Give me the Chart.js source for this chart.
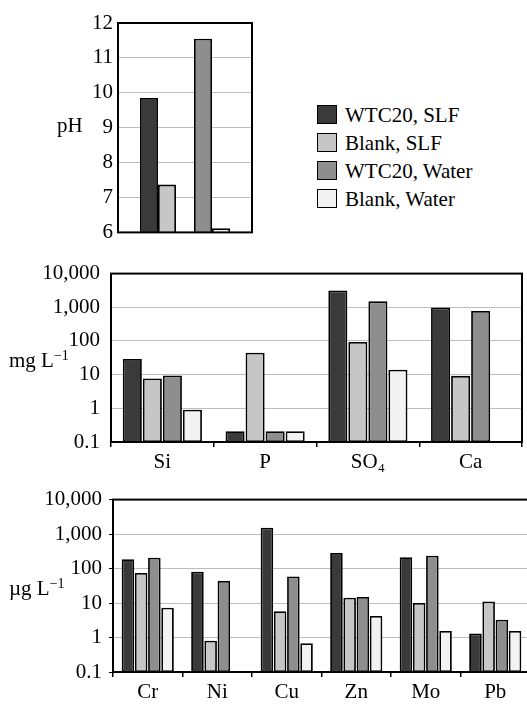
<!DOCTYPE html>
<html>
<head>
<meta charset="utf-8">
<script src="https://cdn.jsdelivr.net/npm/chart.js@4/dist/chart.umd.min.js"></script>
<style>
  body { margin: 0; width: 527px; height: 705px; overflow: hidden; background: #fff; position: relative;
         font-family: "Liberation Serif", "DejaVu Serif", serif; color: #000; }
  canvas { position: absolute; left: 0; }
  .ytitle { position: absolute; font-size: 21px; line-height: 21px; white-space: nowrap; }
  .ytitle sup { font-size: 14px; vertical-align: 7px; line-height: 0; }
  #legend { position: absolute; left: 317px; top: 105px; font-size: 21px; }
  #legend div { height: 28px; display: flex; align-items: flex-start; white-space: nowrap; }
  #legend span.box { width: 18px; height: 17px; border: 1.5px solid #000; margin-right: 8px; flex: none; }
  #legend span.txt { line-height: 20px; }
</style>
</head>
<body>
<canvas id="phChart" width="260" height="250" style="top:0"></canvas>
<canvas id="mgChart" width="527" height="225" style="top:250px"></canvas>
<canvas id="ugChart" width="535" height="225" style="top:480px"></canvas>
<div class="ytitle" style="left:57px; top:115px">pH</div>
<div class="ytitle" style="left:9px; top:350px">mg L<sup>−1</sup></div>
<div class="ytitle" style="left:9px; top:578px">µg L<sup>−1</sup></div>
<div id="legend"></div>

<script>
// series shared by all three panels
const seriesNames = ['WTC20, SLF', 'Blank, SLF', 'WTC20, Water', 'Blank, Water'];
const seriesColors = ['#3a3a3a', '#c6c6c6', '#8e8e8e', '#f2f2f2'];

// pH panel, one value per series
const phValues = [9.85, 7.37, 11.55, 6.12];

// mg/L panel
const mgLabels = ['Si', 'P', 'SO₄', 'Ca'];
const mgWtcSlf = [29, 0.21, 3140, 986];
const mgBlankSlf = [7.7, 45, 93, 9.2];
const mgWtcWater = [9.4, 0.21, 1500, 773];
const mgBlankWater = [0.91, 0.21, 14, null];

// ug/L panel
const ugLabels = ['Cr', 'Ni', 'Cu', 'Zn', 'Mo', 'Pb'];
const ugWtcSlf = [186, 81, 1530, 283, 212, 1.31];
const ugBlankSlf = [74, 0.81, 5.8, 14.3, 10, 11.1];
const ugWtcWater = [207, 44, 59, 14.9, 236, 3.3];
const ugBlankWater = [7.3, null, 0.68, 4.2, 1.55, 1.55];

// log axis ticks
const logTicks = [0.1, 1, 10, 100, 1000, 10000];

Chart.defaults.font.family = '"Liberation Serif", "DejaVu Serif", serif';
Chart.defaults.font.size = 21;
Chart.defaults.color = '#000';
Chart.defaults.animation = false;
Chart.defaults.plugins.legend.display = false;
Chart.defaults.plugins.tooltip.enabled = false;

// black frame around the plot area
const boxBorder = {
    id: 'boxBorder',
    afterDatasetsDraw(chart) {
        const { ctx, chartArea: a } = chart;
        ctx.save();
        ctx.strokeStyle = '#000';
        ctx.lineWidth = 2;
        ctx.strokeRect(a.left, a.top, a.right - a.left, a.bottom - a.top);
        ctx.restore();
    }
};

function barSet(i, data) {
    return {
        label: seriesNames[i],
        data: data,
        backgroundColor: seriesColors[i],
        borderColor: '#000',
        borderWidth: 1.8,
        borderSkipped: false
    };
}

// legend as html
const legendEl = document.getElementById('legend');
seriesNames.forEach((name, i) => {
    const row = document.createElement('div');
    row.innerHTML = '<span class="box" style="background:' + seriesColors[i] + '"></span><span class="txt">' + name + '</span>';
    legendEl.appendChild(row);
});

// pH panel
const phSets = phValues.map((v, i) => barSet(i, [v]));
phSets.splice(2, 0, { label: '', data: [null] }); // empty slot between the SLF and Water pairs

new Chart(document.getElementById('phChart'), {
    type: 'bar',
    data: { labels: ['pH'], datasets: phSets },
    options: {
        responsive: false,
        devicePixelRatio: 1,
        categoryPercentage: 0.672,
        barPercentage: 1,
        layout: { padding: { top: 23, bottom: 17, right: 8, left: 0 } },
        scales: {
            x: { display: false },
            y: {
                min: 6, max: 12,
                ticks: { stepSize: 1, padding: 5 },
                grid: { color: '#bdbdbd', drawTicks: false },
                border: { display: false },
                afterFit(scale) { scale.width = 118; }
            }
        }
    },
    plugins: [boxBorder]
});

function logOptions(axisWidth, tickMarks, labelPad, top) {
    return {
        responsive: false,
        devicePixelRatio: 1,
        categoryPercentage: 0.78,
        barPercentage: 0.95,
        layout: { padding: { top: top, bottom: 0, right: 5, left: 0 } },
        scales: {
            x: {
                grid: { display: true, drawOnChartArea: false, tickLength: 5, tickColor: '#000', lineWidth: 1.5 },
                border: { display: false },
                ticks: { padding: 3, maxRotation: 0 },
                afterFit(scale) { scale.height = 33; }
            },
            y: {
                type: 'logarithmic',
                min: 0.1, max: 10000,
                afterBuildTicks(scale) { scale.ticks = logTicks.map(v => ({ value: v })); },
                ticks: {
                    padding: labelPad,
                    callback: v => Number(v).toLocaleString('en-US')
                },
                grid: { color: '#bdbdbd', drawTicks: tickMarks, tickLength: 4, tickColor: '#000' },
                border: { display: false },
                afterFit(scale) { scale.width = axisWidth; }
            }
        }
    };
}

new Chart(document.getElementById('mgChart'), {
    type: 'bar',
    data: {
        labels: mgLabels,
        datasets: [mgWtcSlf, mgBlankSlf, mgWtcWater, mgBlankWater].map((d, i) => barSet(i, d))
    },
    options: logOptions(111, false, 11, 19),
    plugins: [boxBorder]
});

const ugOpts = logOptions(113, true, 7, 11);
ugOpts.categoryPercentage = 0.76;
new Chart(document.getElementById('ugChart'), {
    type: 'bar',
    data: {
        labels: ugLabels,
        datasets: [ugWtcSlf, ugBlankSlf, ugWtcWater, ugBlankWater].map((d, i) => barSet(i, d))
    },
    options: ugOpts,
    plugins: [boxBorder]
});
</script>
</body>
</html>
